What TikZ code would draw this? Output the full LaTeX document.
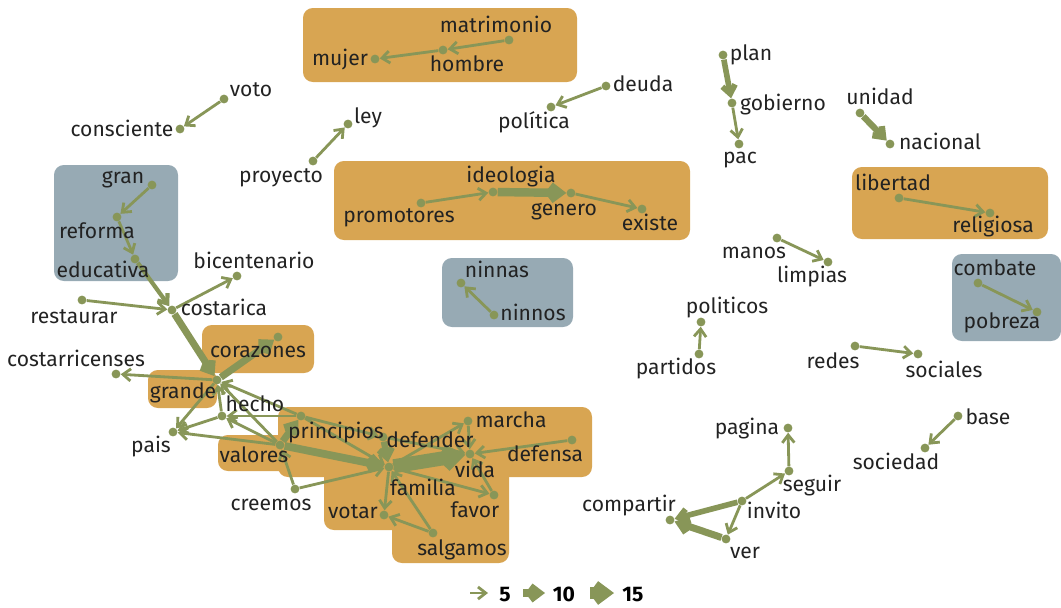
\documentclass[tikz,border=0pt]{standalone}
\usepackage{fontspec}
\setmainfont{Fira Sans}
\usetikzlibrary{arrows.meta}

\definecolor{edgegreen}{RGB}{136,150,88}
\definecolor{boxorange}{RGB}{216,165,82}
\definecolor{boxgray}{RGB}{151,170,180}
\definecolor{inkgray}{RGB}{34,34,34}

\begin{document}
\begin{tikzpicture}[x=0.025cm, y=-0.025cm,
    dot/.style={circle, fill=edgegreen, inner sep=0pt, minimum size=6.3pt},
    word/.style={font=\fontsize{15}{18}\selectfont, text=inkgray, anchor=base, inner sep=0pt},
    link/.style={->, draw=edgegreen, >={Straight Barb[length=5pt 0.25, width=8pt 0.3]}},
    key/.style={font=\bfseries\fontsize{15}{18}\selectfont, text=black, anchor=base, inner sep=0pt}]
    \useasboundingbox (0,0) rectangle (1061,607);

    % Cluster boxes
    \fill[boxorange, rounded corners=7pt] (303,8) rectangle (577,82);
    \fill[boxorange, rounded corners=7pt] (334,161) rectangle (690,240);
    \fill[boxorange, rounded corners=7pt] (852,167) rectangle (1048,239);
    \fill[boxorange, rounded corners=7pt] (202,325) rectangle (314,373);
    \fill[boxorange, rounded corners=7pt] (148,370) rectangle (217,408);
    \fill[boxorange, rounded corners=7pt] (278,407) rectangle (592,477);
    \fill[boxorange, rounded corners=7pt] (218,435) rectangle (290,471);
    \fill[boxorange, rounded corners=7pt] (324,465) rectangle (509,530);
    \fill[boxorange, rounded corners=7pt] (392,500) rectangle (509,563);
    \fill[boxgray, rounded corners=7pt] (54,165) rectangle (178,281);
    \fill[boxgray, rounded corners=7pt] (442,258) rectangle (573,327);
    \fill[boxgray, rounded corners=7pt] (952,254) rectangle (1061,341);

    % Word positions
    \foreach \n/\x/\y in {matrimonio/509/40, hombre/443/50, mujer/375/59,
        deuda/606/86, politica/551/107, ley/348/124, proyecto/313/161,
        ideologia/493/192, promotores/421/203, genero/571/193, existe/642/209,
        plan/723/55, gobierno/732/103, pac/739/144, unidad/860/113, nacional/890/144,
        libertad/899/198, religiosa/990/213, manos/777/238, limpias/828/262,
        combate/978/283, pobreza/1037/312, politicos/701/322, partidos/699/354,
        redes/855/346, sociales/918/354, base/958/416, sociedad/925/448,
        pagina/788/428, seguir/789/471, invito/742/501, compartir/670/520, ver/726/539,
        ninnas/461/283, ninnos/494/315, voto/224/99, consciente/180/129,
        gran/152/185, reforma/117/217, educativa/135/259, bicentenario/237/276,
        restaurar/82/300, costarica/172/310, corazones/278/337, costarricenses/116/374,
        grande/217/380, hecho/222/416, pais/173/432, principios/301/416,
        valores/280/445, creemos/295/489, defender/383/437, familia/389/467,
        vida/470/454, marcha/468/421, defensa/572/440, favor/494/495,
        votar/384/515, salgamos/433/533}
      \node[dot] (\n) at (\x,\y) {};

    % Edges
    \draw[link, line width=2pt] (matrimonio) to (hombre);
    \draw[link, line width=2pt] (hombre) to (mujer);
    \draw[link, line width=2pt] (deuda) to (politica);
    \draw[link, line width=2pt] (proyecto) to (ley);
    \draw[link, line width=2pt] (voto) to (consciente);
    \draw[link, line width=2pt] (promotores) to (ideologia);
    \draw[link, line width=6pt] (ideologia) to (genero);
    \draw[link, line width=2pt] (genero) to (existe);
    \draw[link, line width=4pt] (plan) to (gobierno);
    \draw[link, line width=2pt] (gobierno) to (pac);
    \draw[link, line width=4.5pt] (unidad) to (nacional);
    \draw[link, line width=2pt] (libertad) to (religiosa);
    \draw[link, line width=2pt] (manos) to (limpias);
    \draw[link, line width=2pt] (combate) to (pobreza);
    \draw[link, line width=2pt] (partidos) to (politicos);
    \draw[link, line width=2pt] (redes) to (sociales);
    \draw[link, line width=2pt] (base) to (sociedad);
    \draw[link, line width=2pt] (seguir) to (pagina);
    \draw[link, line width=2pt] (invito) to (seguir);
    \draw[link, line width=4pt] (invito) to (compartir);
    \draw[link, line width=5pt] (ver) to (compartir);
    \draw[link, line width=2pt] (invito) to (ver);
    \draw[link, line width=2pt] (ninnos) to (ninnas);

    \draw[link, line width=2pt] (gran) to (reforma);
    \draw[link, line width=2pt] (reforma) to (educativa);
    \draw[link, line width=3pt] (educativa) to (costarica);
    \draw[link, line width=2pt] (restaurar) to (costarica);
    \draw[link, line width=2pt] (costarica) to (bicentenario);
    \draw[link, line width=5pt] (costarica) to (grande);
    \draw[link, line width=5pt] (grande) to (corazones);
    \draw[link, line width=2pt] (grande) to (costarricenses);
    \draw[link, line width=2pt] (grande) to (pais);
    \draw[link, line width=2pt] (hecho) to (grande);
    \draw[link, line width=2pt] (principios) to (grande);
    \draw[link, line width=2pt] (valores) to (grande);
    \draw[link, line width=2pt] (principios) to (hecho);
    \draw[link, line width=2pt] (valores) to (hecho);
    \draw[link, line width=2pt] (hecho) to (pais);
    \draw[link, line width=2pt] (valores) to (pais);
    \draw[link, line width=5pt] (valores) to (principios);
    \draw[link, line width=5.5pt] (valores) to (familia);
    \draw[link, line width=2pt] (creemos) to (valores);
    \draw[link, line width=2pt] (creemos) to (familia);
    \draw[link, line width=2pt] (principios) to (defender);
    \draw[link, line width=2pt] (principios) to (familia);
    \draw[link, line width=4.5pt] (defender) to (familia);
    \draw[link, line width=10pt] (familia) to (vida);
    \draw[link, line width=2pt] (familia) to (marcha);
    \draw[link, line width=2pt] (marcha) to (vida);
    \draw[link, line width=2pt] (defender) to (vida);
    \draw[link, line width=2pt] (defensa) to (vida);
    \draw[link, line width=2pt] (favor) to (vida);
    \draw[link, line width=2pt] (familia) to (favor);
    \draw[link, line width=2pt] (familia) to (votar);
    \draw[link, line width=2pt] (salgamos) to (votar);
    \draw[link, line width=2pt] (salgamos) to (familia);

    % Labels
    \foreach \n/\t/\x/\y in {matrimonio/matrimonio/496/32, hombre/hombre/467/71,
        mujer/mujer/340/65, deuda/deuda/643/91, politica/política/534/128,
        ley/ley/368/123, proyecto/proyecto/281/182, ideologia/ideologia/511/182,
        promotores/promotores/399/222, genero/genero/564/215, existe/existe/650/230,
        plan/plan/751/60, gobierno/gobierno/783/110, pac/pac/740/163,
        unidad/unidad/880/104, nacional/nacional/940/149, libertad/libertad/893/190,
        religiosa/religiosa/993/232, manos/manos/754/258, limpias/limpias/812/282,
        combate/combate/995/275, pobreza/pobreza/1002/328, politicos/politicos/727/313,
        partidos/partidos/676/374, redes/redes/833/368, sociales/sociales/944/377,
        pagina/pagina/747/434, seguir/seguir/812/491, invito/invito/774/518,
        compartir/compartir/629/511, ver/ver/745/558, sociedad/sociedad/896/469,
        base/base/988/424, ninnas/ninnas/497/277, ninnos/ninnos/533/320,
        voto/voto/251/96, consciente/consciente/122/136, gran/gran/123/183,
        reforma/reforma/97/238, educativa/educativa/103/277,
        bicentenario/bicentenario/254/268, restaurar/restaurar/74/323,
        costarica/costarica/224/315, corazones/corazones/258/357,
        costarricenses/costarricenses/76/366, grande/grande/183/398,
        hecho/hecho/255/411, pais/pais/151/452, valores/valores/254/462,
        principios/principios/336/438, creemos/creemos/271/510,
        defender/defender/430/447, marcha/marcha/511/427, defensa/defensa/545/461,
        vida/vida/475/477, familia/familia/423/495, favor/favor/475/517,
        votar/votar/353/518, salgamos/salgamos/462/555}
      \node[word] (t\n) at (\x,\y) {\t};

    % Legend
    \coordinate (k5a) at (470,593);
    \coordinate (k5b) at (488,593);
    \coordinate (k10a) at (523,593);
    \coordinate (k10b) at (545,593);
    \coordinate (k15a) at (590,593);
    \coordinate (k15b) at (614,593);
    \draw[link, line width=2pt] (k5a) to (k5b);
    \draw[link, line width=5pt] (k10a) to (k10b);
    \draw[link, line width=8pt] (k15a) to (k15b);
    \node[key] (k5) at (505,601) {5};
    \node[key] (k10) at (564,601) {10};
    \node[key] (k15) at (633,601) {15};
  \end{tikzpicture}
\end{document}
